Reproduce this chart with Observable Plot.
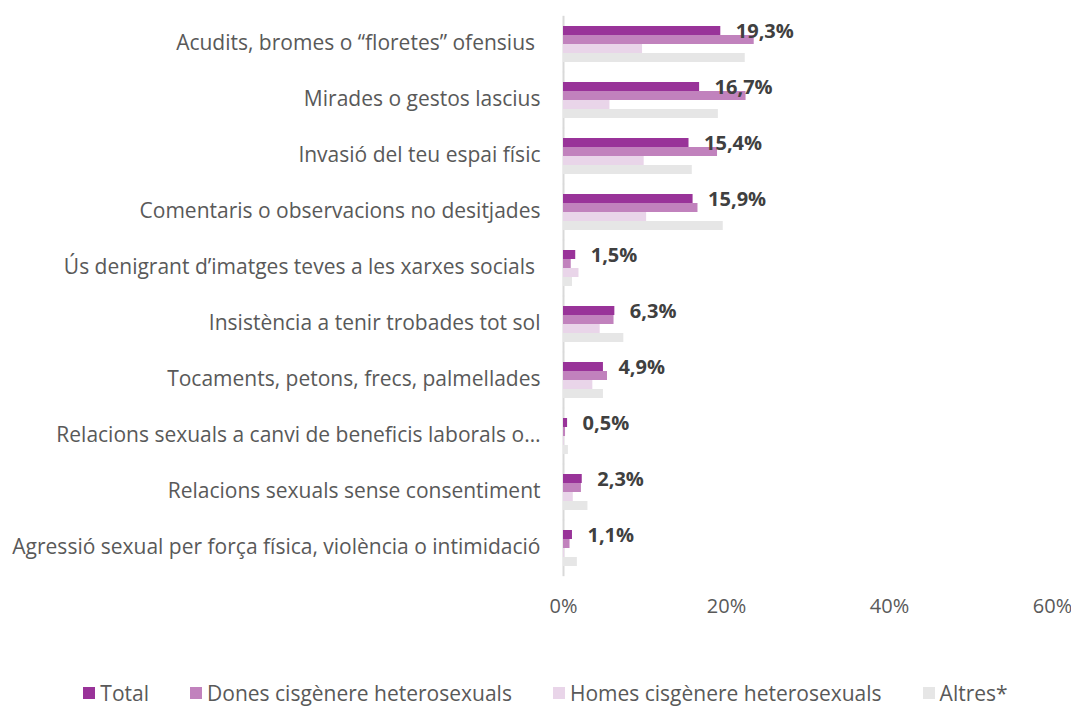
<!DOCTYPE html>
<html>
<head>
<meta charset="utf-8">
<script src="https://cdn.jsdelivr.net/npm/d3@7"></script>
<script src="https://cdn.jsdelivr.net/npm/@observablehq/plot@0.6"></script>
<style>
  html, body { margin: 0; padding: 0; background: #fff; }
  #chart { width: 1071px; }
  .legend { display: flex; justify-content: center; align-items: center; gap: 41px;
    font-family: "Open Sans", sans-serif; font-size: 21px; color: #595959; height: 36px; margin-left: 20px; }
  .legend span.item { display: flex; align-items: center; }
  .legend span.sw { display: inline-block; width: 12px; height: 12px; margin-right: 5px; }
</style>
</head>
<body>
<div id="chart"></div>
<script>
const categories = [
  "Acudits, bromes o “floretes” ofensius\u00A0",
  "Mirades o gestos lascius",
  "Invasió del teu espai físic",
  "Comentaris o observacions no desitjades",
  "Ús denigrant d’imatges teves a les xarxes socials\u00A0",
  "Insistència a tenir trobades tot sol",
  "Tocaments, petons, frecs, palmellades",
  "Relacions sexuals a canvi de beneficis laborals o…",
  "Relacions sexuals sense consentiment",
  "Agressió sexual per força física, violència o intimidació"
];
const seriesNames = ["Total", "Dones cisgènere heterosexuals", "Homes cisgènere heterosexuals", "Altres*"];
const total  = [19.3, 16.7, 15.4, 15.9, 1.5, 6.3, 4.9, 0.5, 2.3, 1.1];
const dones  = [23.4, 22.4, 18.9, 16.5, 0.95, 6.2, 5.4, 0.25, 2.2, 0.8];
const homes  = [9.7, 5.7, 9.9, 10.2, 1.9, 4.5, 3.6, 0.1, 1.2, 0.15];
const altres = [22.3, 19.0, 15.8, 19.6, 1.1, 7.4, 4.9, 0.6, 3.0, 1.7];
const colors = ["#993399", "#c182bd", "#e9d5e9", "#e6e6e6"];
const xTicks = [0, 20, 40, 60];

const seriesValues = [total, dones, homes, altres];
const data = categories.flatMap((c, i) =>
  seriesNames.map((s, j) => ({category: c, series: s, value: seriesValues[j][i]})));
const totalData = data.filter(d => d.series === "Total");

const chart = Plot.plot({
  width: 1071,
  height: 675,
  marginLeft: 563,
  marginRight: 19,
  marginTop: 15,
  marginBottom: 98,
  style: {fontFamily: "'Open Sans', sans-serif", background: "#fff"},
  x: {domain: [0, 60]},
  y: {domain: seriesNames, padding: 0, axis: null},
  fy: {domain: categories, paddingInner: 0.32, paddingOuter: 0.16, axis: null},
  color: {domain: seriesNames, range: colors},
  marks: [
    Plot.ruleX([0], {stroke: "#d9d9d9", strokeWidth: 2, insetTop: -9.2, insetBottom: -9.2}),
    Plot.barX(data, {x: "value", y: "series", fy: "category", fill: "series", inset: 0}),
    Plot.text(totalData, {
      x: "value", y: "series", fy: "category",
      text: d => d.value.toFixed(1).replace(".", ",") + "%",
      textAnchor: "start", dx: 15, dy: 1,
      fontSize: 20, fontWeight: "bold", fill: "#404040"
    }),
    Plot.axisX({ticks: xTicks, tickFormat: d => d + "%", tickSize: 0, tickPadding: 31,
      fontSize: 20, color: "#595959", label: null}),
    Plot.axisFy({anchor: "left", tickSize: 0, tickPadding: 23, dy: -1, fontSize: 21, color: "#595959", label: null})
  ]
});
document.getElementById("chart").appendChild(chart);

const legend = document.createElement("div");
legend.className = "legend";
seriesNames.forEach((s, i) => {
  const item = document.createElement("span");
  item.className = "item";
  const sw = document.createElement("span");
  sw.className = "sw";
  sw.style.background = colors[i];
  item.appendChild(sw);
  item.appendChild(document.createTextNode(s));
  legend.appendChild(item);
});
document.getElementById("chart").appendChild(legend);
</script>
</body>
</html>
